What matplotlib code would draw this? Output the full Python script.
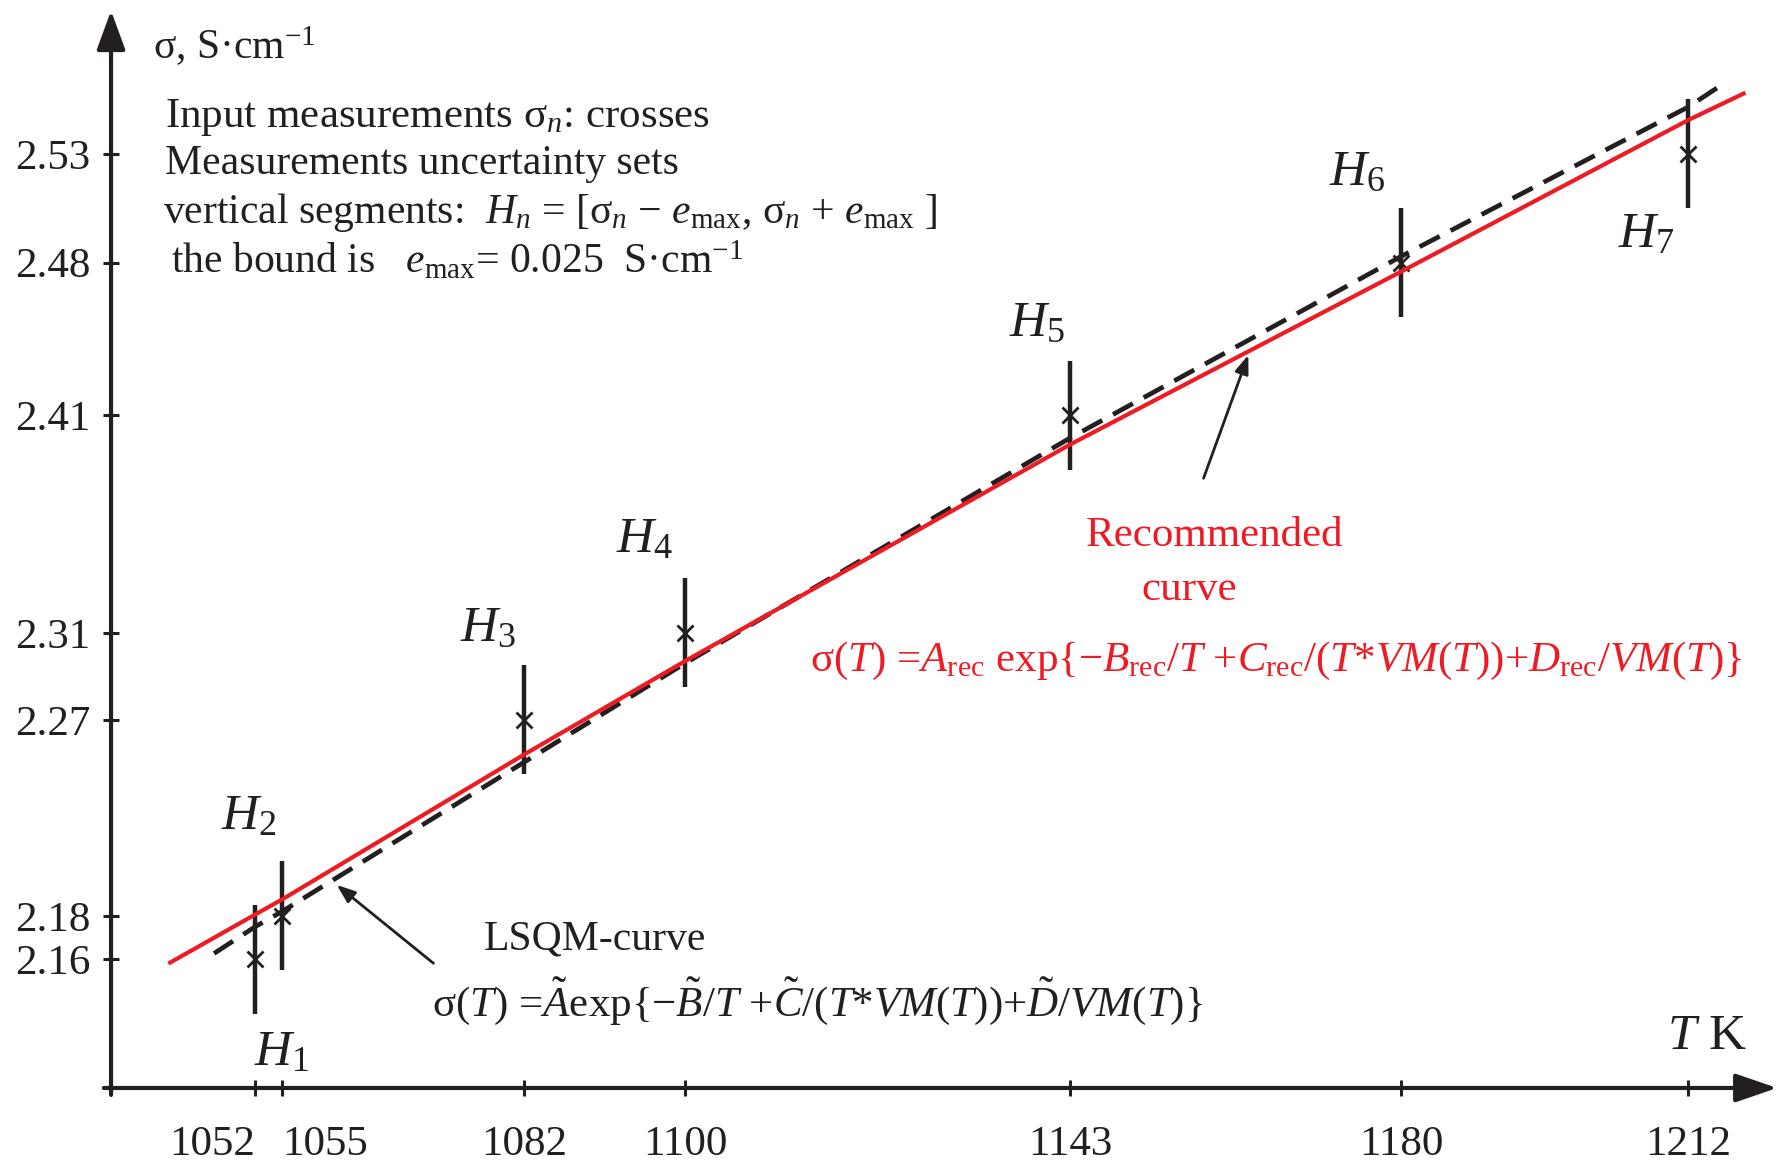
import matplotlib
matplotlib.use("Agg")
import matplotlib.pyplot as plt

plt.rcParams['font.family'] = ['Liberation Serif', 'DejaVu Serif']
plt.rcParams['mathtext.fontset'] = 'custom'
plt.rcParams['mathtext.rm'] = 'Liberation Serif'
plt.rcParams['mathtext.it'] = 'Liberation Serif:italic'
plt.rcParams['mathtext.bf'] = 'Liberation Serif:bold'

# ---------------- data ----------------
T_meas = [1052, 1055, 1082, 1100, 1143, 1180, 1212]
sigma_meas = [2.16, 2.18, 2.27, 2.31, 2.41, 2.48, 2.53]
e_max = 0.025
H_labels = [r"$H_1$", r"$H_2$", r"$H_3$", r"$H_4$", r"$H_5$", r"$H_6$", r"$H_7$"]

rec_T = [1042.5, 1052, 1055, 1082, 1100, 1143, 1180, 1212, 1218.2]
rec_sigma = [2.1585, 2.1806, 2.1875, 2.254, 2.297, 2.3965, 2.476, 2.5455, 2.5577]

lsq_T = [1047.4, 1052, 1055, 1082, 1100, 1143, 1180, 1212, 1215.5]
lsq_sigma = [2.1627, 2.175, 2.182, 2.2505, 2.296, 2.3995, 2.483, 2.5515, 2.561]

x_ticks = [1052, 1055, 1082, 1100, 1143, 1180, 1212]
x_tick_labels = ["1052", "1055", "1082", "1100", "1143", "1180", "1212"]
y_ticks = [2.16, 2.18, 2.27, 2.31, 2.41, 2.48, 2.53]
y_tick_labels = ["2.16", "2.18", "2.27", "2.31", "2.41", "2.48", "2.53"]

BLACK = '#231F20'
RED = '#ED1C24'

W, H = 1784, 1167
fig = plt.figure(figsize=(W / 100, H / 100), dpi=100)
ax = fig.add_axes([0, 0, 1, 1])
ax.set_xlim(1023.5, 1222.72)
ax.set_ylim(2.0646, 2.6007)

def fx(px):
    return px / W

def fy(py):
    return 1 - py / H

# ---------------- axes ----------------
x_axis_y = 2.1009
y_axis_x = 1035.9
for s in ['top', 'right', 'left', 'bottom']:
    ax.spines[s].set_visible(False)
ax.spines['left'].set_position(('data', y_axis_x))
ax.spines['bottom'].set_position(('data', x_axis_y))

# axis lines with arrow heads
ax.annotate('', xy=(1221.95, x_axis_y), xytext=(1035.1, x_axis_y),
            arrowprops=dict(arrowstyle='-|>,head_length=1.6,head_width=0.55',
                            lw=3, color=BLACK, shrinkA=0, shrinkB=0,
                            mutation_scale=16), zorder=2)
ax.annotate('', xy=(y_axis_x, 2.5958), xytext=(y_axis_x, 2.0977),
            arrowprops=dict(arrowstyle='-|>,head_length=1.5,head_width=0.55',
                            lw=3, color=BLACK, shrinkA=0, shrinkB=0,
                            mutation_scale=16), zorder=2)

ax.set_xticks(x_ticks)
ax.set_xticklabels(x_tick_labels)
ax.set_yticks(y_ticks)
ax.set_yticklabels(y_tick_labels)
ax.tick_params(axis='x', direction='inout', length=12, width=2.2, color=BLACK,
               labelsize=31, labelcolor=BLACK, pad=21)
ax.tick_params(axis='y', direction='inout', length=12, width=2.2, color=BLACK,
               labelsize=31, labelcolor=BLACK, pad=9)
xl = ax.get_xticklabels()
xl[0].set_horizontalalignment('right')
xl[1].set_horizontalalignment('left')

# ---------------- curves ----------------
ax.plot(lsq_T, lsq_sigma, color=BLACK, lw=3.4, dashes=(4.8, 2.6),
        solid_capstyle='butt', dash_capstyle='butt', zorder=3)
ax.errorbar(T_meas, sigma_meas, yerr=e_max, fmt='none', ecolor=BLACK,
            elinewidth=3.2, capsize=0, zorder=4)
ax.plot(T_meas, sigma_meas, linestyle='none', marker='x', markersize=11,
        mew=2.0, color=BLACK, zorder=5)
ax.plot(rec_T, rec_sigma, color=RED, lw=3.0, zorder=6)

# H labels
H_offsets = [(19, -67), (-24, 71), (-26, 65.5), (-29, 67), (-24, 66), (-32, 65), (-30, -58)]
for t, s, lab, off in zip(T_meas, sigma_meas, H_labels, H_offsets):
    ax.annotate(lab, xy=(t, s), xytext=off, textcoords='offset points',
                ha='center', va='center', fontsize=37, color=BLACK)

# ---------------- texts ----------------
tk = dict(transform=ax.transAxes, color=BLACK, fontsize=30, va='baseline', ha='left')
ax.text(fx(153), fy(59), r"σ, S·cm$^{\mathrm{-1}}$", **tk)
ax.text(fx(165), fy(127), r"Input measurements σ$_n$: crosses",
        transform=ax.transAxes, color=BLACK, fontsize=31, va='baseline', ha='left')
ax.text(fx(165), fy(174), "Measurements uncertainty sets", **tk)
ax.text(fx(163), fy(223),
        r"vertical segments:  $H_n$ = [σ$_n$ − $e_{\mathrm{max}}$, σ$_n$ + $e_{\mathrm{max}}$ ]", **tk)
ax.text(fx(171), fy(273), r"the bound is   $e_{\mathrm{max}}$= 0.025  S·cm$^{\mathrm{-1}}$", **tk)

rk = dict(transform=ax.transAxes, color=RED, fontsize=31, va='baseline')
ax.text(fx(1215), fy(546), "Recommended", ha='center', **rk)
ax.text(fx(1189), fy(600), "curve", ha='center', **rk)
ax.text(fx(810), fy(671),
        r"σ($T$) =$A_{\mathrm{rec}}$ exp{$-B_{\mathrm{rec}}$/$T$ +$C_{\mathrm{rec}}$/($T$*$VM$($T$))+$D_{\mathrm{rec}}$/$VM$($T$)}",
        ha='left', **rk)

ax.text(fx(484), fy(950), "LSQM-curve", **tk)
ax.text(fx(432), fy(1016),
        r"σ($T$) =$\tilde{A}$exp{$-\tilde{B}$/$T$ +$\tilde{C}$/($T$*$VM$($T$))+$\tilde{D}$/$VM$($T$)}",
        transform=ax.transAxes, color=BLACK, fontsize=31, va='baseline', ha='left')

ax.text(fx(1667), fy(1049), r"$T$ K", transform=ax.transAxes, color=BLACK,
        fontsize=37, va='baseline', ha='left')

# pointer arrows
ax.annotate('', xy=(1162.9, 2.4376), xytext=(1157.9, 2.381),
            arrowprops=dict(arrowstyle='-|>,head_length=0.8,head_width=0.3',
                            lw=2.0, color=BLACK, shrinkA=0, shrinkB=0,
                            mutation_scale=14), zorder=7)
ax.annotate('', xy=(1061.1, 2.1942), xytext=(1071.9, 2.1582),
            arrowprops=dict(arrowstyle='-|>,head_length=0.8,head_width=0.3',
                            lw=2.0, color=BLACK, shrinkA=0, shrinkB=0,
                            mutation_scale=14), zorder=7)

fig.savefig('out.png', dpi=100)
